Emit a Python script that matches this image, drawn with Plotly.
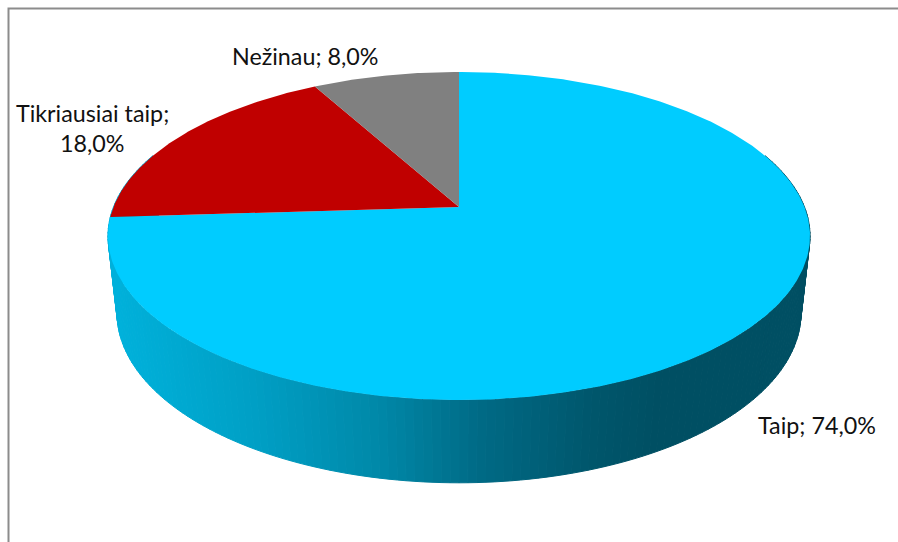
import math
import plotly.graph_objects as go

# Data
categories = ["Taip", "Tikriausiai taip", "Nežinau"]
values = [74.0, 18.0, 8.0]
slice_colors = ["#00CCFF", "#C00000", "#808080"]

# Perspective geometry of the two discs (pixel canvas)
CX = 459
TOP = dict(y0=207, a=158.9, b=345.5, k=0.1768)
BOT = dict(y0=284, a=165.0, b=337.0, k=0.17)
W, H = 898, 542
FONT = "Lato"
FONT_SIZE = 23.3

# Side shading: x position -> rgb
SHADE = [(108, (0, 178, 220)), (250, (0, 160, 198)), (380, (0, 136, 168)),
         (480, (0, 106, 133)), (600, (0, 85, 106)), (660, (0, 79, 99)), (810, (0, 79, 99))]


def project(deg, d):
    """Clockwise degrees from the top of the disc to canvas pixels."""
    r = math.radians(deg)
    u, v = math.sin(r), math.cos(r)
    w = 1 + d["k"] * v
    return CX + d["b"] * u / w, d["y0"] - d["a"] * v / w


def shade(x):
    for (x0, c0), (x1, c1) in zip(SHADE, SHADE[1:]):
        if x <= x1:
            f = max(0.0, (x - x0) / (x1 - x0))
            return "rgb(%d,%d,%d)" % tuple(round(a + (b - a) * f) for a, b in zip(c0, c1))
    return "rgb(%d,%d,%d)" % SHADE[-1][1]


fig = go.Figure()


def poly(xs, ys, color, lw=0.0):
    fig.add_trace(go.Scatter(x=xs, y=ys, mode="lines", fill="toself", fillcolor=color,
                             line=dict(color=color, width=lw), hoverinfo="skip", showlegend=False))


# Side wall, as thin shaded strips along the lower rim
STEP = 1.25
deg = 70.0
while deg < 290.0:
    pts = [project(deg, TOP), project(deg + STEP, TOP), project(deg + STEP, BOT), project(deg, BOT)]
    c = shade(sum(p[0] for p in pts) / 4)
    poly([p[0] for p in pts] + [pts[0][0]], [p[1] for p in pts] + [pts[0][1]], c, 1.0)
    deg += STEP

# Top face, slices derived from the values
start = 0.0
total = sum(values)
for val, col in zip(values, slice_colors):
    sweep = 360.0 * val / total
    n = max(int(sweep * 2), 2)
    rim = [project(start + sweep * i / n, TOP) for i in range(n + 1)]
    xs = [CX] + [p[0] for p in rim] + [CX]
    ys = [TOP["y0"]] + [p[1] for p in rim] + [TOP["y0"]]
    poly(xs, ys, col)
    start += sweep


def label(i):
    return "%s; %s%%" % (categories[i], ("%.1f" % values[i]).replace(".", ","))


def text(x, y, s):
    fig.add_annotation(x=x, y=y, text=s, showarrow=False, xanchor="center", yanchor="middle",
                       font=dict(family=FONT, size=FONT_SIZE, color="#111111"))


text(817, 425, label(0))
first, second = label(1).split(" ", 2)[0:2], label(1).split(" ", 2)[2]
text(92, 113, " ".join(first))
text(92, 143, second)
text(305, 56, label(2))

fig.update_layout(
    width=W, height=H, margin=dict(l=0, r=0, t=0, b=0),
    paper_bgcolor="white", plot_bgcolor="white", showlegend=False,
    xaxis=dict(range=[0, W], visible=False, fixedrange=True),
    yaxis=dict(range=[H, 0], visible=False, fixedrange=True),
    shapes=[dict(type="path", path=f"M 8.5 {H} L 8.5 8.5 L {W} 8.5",
                 line=dict(color="#8C8C8C", width=2), layer="below")],
)
fig.write_html("out.html", post_script="document.body.style.margin='0';document.body.style.overflow='hidden';",
               config={"displayModeBar": False})
